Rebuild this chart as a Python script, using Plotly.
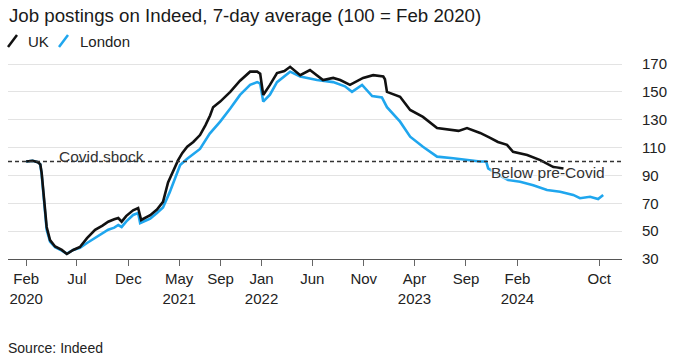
import plotly.graph_objects as go

# ---------------- data ----------------
uk_dates = ["2020-02-01","2020-02-20","2020-03-07","2020-03-14","2020-03-18","2020-03-25","2020-04-02",
    "2020-04-12","2020-04-27","2020-05-17","2020-06-01","2020-06-20","2020-07-10","2020-07-31","2020-08-24",
    "2020-09-15","2020-10-02","2020-10-20","2020-11-01","2020-11-11","2020-11-25","2020-12-15","2020-12-30",
    "2021-01-08","2021-02-04","2021-02-24","2021-03-14","2021-03-29","2021-04-13","2021-04-28","2021-05-10",
    "2021-05-25","2021-06-12","2021-07-02","2021-07-18","2021-08-01","2021-08-10","2021-08-31","2021-09-30",
    "2021-10-29","2021-11-28","2021-12-19","2021-12-28","2022-01-06","2022-01-26","2022-02-16","2022-03-10",
    "2022-03-27","2022-04-26","2022-05-25","2022-07-03","2022-08-02","2022-08-23","2022-09-21","2022-10-30",
    "2022-11-29","2022-12-29","2023-01-03","2023-01-09","2023-02-17","2023-03-19","2023-04-26","2023-06-07",
    "2023-07-16","2023-08-10","2023-09-04","2023-10-13","2023-11-12","2023-12-05","2024-01-01","2024-01-19",
    "2024-03-01","2024-04-09","2024-05-18","2024-06-17"]
uk_values = [100,100.5,99.5,98,92,74,53,
    43.6,39,36.5,33.6,36.5,38.6,45,51,
    54,56.8,58.5,59.4,56.8,61,65,66.6,
    58,61.5,65.5,71,85,93,101,106,
    110.6,114,119,126,133,139,143,150,
    158,164.5,164.5,163,147.8,155,163.5,165,
    168,162,165.7,158.5,160,158.5,155,160,
    162,161,159,150,146.5,137,132,124,
    122.6,122,124,120.5,117,114,112,107,
    104.7,101,96,95]

london_dates = ["2020-02-01","2020-02-20","2020-03-07","2020-03-14","2020-03-18","2020-03-25","2020-04-02",
    "2020-04-12","2020-04-27","2020-05-17","2020-06-01","2020-06-20","2020-07-10","2020-07-31","2020-08-24",
    "2020-09-15","2020-10-02","2020-10-20","2020-11-01","2020-11-11","2020-11-25","2020-12-15","2020-12-30",
    "2021-01-05","2021-02-04","2021-02-24","2021-03-14","2021-04-03","2021-04-18","2021-05-04","2021-05-25",
    "2021-06-23","2021-07-02","2021-07-31","2021-08-31","2021-09-30","2021-10-29","2021-11-28","2021-12-19",
    "2021-12-28","2022-01-06","2022-01-26","2022-02-16","2022-03-27","2022-04-26","2022-06-15","2022-08-02",
    "2022-09-06","2022-09-27","2022-10-27","2022-11-26","2022-12-25","2023-01-09","2023-02-17","2023-03-19",
    "2023-04-26","2023-06-07","2023-07-25","2023-09-04","2023-10-13","2023-10-31","2023-11-06","2023-12-03",
    "2024-01-04","2024-02-09","2024-03-19","2024-04-29","2024-06-07","2024-07-16","2024-08-05","2024-09-04",
    "2024-09-28","2024-10-13"]
london_values = [100,100.5,99.5,98,91,72,51,
    42.5,38.5,36,33.8,36.5,38,41.5,45,
    48,51,52.5,54.4,53,57,61.6,63,
    55.8,59,63,67,78,88,97.5,102,
    107,109,120,128.6,138,147.8,155,157,
    156,143,148,157,164.5,161,158.5,157,
    154,150,155,147,146,139,128.6,117.8,
    110.6,103.5,102.3,101,100,100,95,91,
    86.7,85.5,83,79.5,78.3,76,73.6,74.7,
    73,76]

tick_dates = ["2020-02-01","2020-07-01","2020-12-01","2021-05-01","2021-09-01","2022-01-01",
              "2022-06-01","2022-11-01","2023-04-01","2023-09-01","2024-02-01","2024-10-01"]
tick_labels = ["Feb<br>2020","Jul","Dec","May<br>2021","Sep","Jan<br>2022",
               "Jun","Nov","Apr<br>2023","Sep","Feb<br>2024","Oct"]
y_ticks = [30, 50, 70, 90, 110, 130, 150, 170]

# ---------------- layout geometry ----------------
W, H = 679, 356
PL, PR, PT, PB = 8, 622, 62, 259   # plot area in pixels


def px_x(px):
    return (px - PL) / (PR - PL)


def px_y(py):
    return (PB - py) / (PB - PT)


FONT = "Liberation Sans, Arial, sans-serif"
TXT = "#222222"
BLUE = "#1fa6ee"
HALO = "0px 0px 2px white, 0px 0px 2px white, 0px 0px 3px white, 0px 0px 3px white"

fig = go.Figure()
fig.add_trace(go.Scatter(x=london_dates, y=london_values, mode="lines", name="London",
                         line=dict(color=BLUE, width=2.6), hoverinfo="skip"))
fig.add_trace(go.Scatter(x=uk_dates, y=uk_values, mode="lines", name="UK",
                         line=dict(color="#111111", width=2.6), hoverinfo="skip"))

shapes = [
    dict(type="line", xref="paper", yref="y", x0=0, x1=1, y0=100, y1=100,
         line=dict(color="#333333", width=1.5, dash="4px,3px"), layer="above"),
    # legend slashes
    dict(type="line", xref="paper", yref="paper", x0=px_x(8), x1=px_x(17), y0=px_y(47), y1=px_y(35),
         line=dict(color="#111111", width=2.5)),
    dict(type="line", xref="paper", yref="paper", x0=px_x(59), x1=px_x(68), y0=px_y(47), y1=px_y(35),
         line=dict(color=BLUE, width=2.5)),
]

annotations = [
    dict(text="Job postings on Indeed, 7-day average (100 = Feb 2020)", xref="paper", yref="paper",
         x=px_x(7), y=px_y(15), xanchor="left", yanchor="middle", showarrow=False,
         font=dict(family=FONT, size=18.7, color="#1a1a1a")),
    dict(text="UK", xref="paper", yref="paper", x=px_x(26), y=px_y(42), xanchor="left", yanchor="middle",
         showarrow=False, font=dict(family=FONT, size=15, color=TXT)),
    dict(text="London", xref="paper", yref="paper", x=px_x(78), y=px_y(42), xanchor="left", yanchor="middle",
         showarrow=False, font=dict(family=FONT, size=15, color=TXT)),
    dict(text="Covid shock", xref="paper", yref="paper", x=px_x(57), y=px_y(156), xanchor="left",
         yanchor="middle", showarrow=False, font=dict(family=FONT, size=15.5, color="#333333")),
    dict(text="Below pre-Covid", xref="paper", yref="paper", x=px_x(489), y=px_y(172), xanchor="left",
         yanchor="middle", showarrow=False,
         font=dict(family=FONT, size=15.5, color="#333333", shadow=HALO)),
    dict(text="Source: Indeed", xref="paper", yref="paper", x=px_x(6), y=px_y(348), xanchor="left",
         yanchor="middle", showarrow=False, font=dict(family=FONT, size=14, color=TXT)),
]

fig.update_layout(
    width=W, height=H,
    margin=dict(l=PL, r=W - PR, t=PT, b=H - PB, pad=0, autoexpand=False),
    paper_bgcolor="white", plot_bgcolor="white",
    showlegend=False,
    shapes=shapes, annotations=annotations,
    font=dict(family=FONT, color=TXT),
    xaxis=dict(type="date", range=["2019-12-09", "2024-12-08"],
               tickvals=tick_dates, ticktext=tick_labels,
               showgrid=False, zeroline=False,
               showline=True, linecolor="#555555", linewidth=1.2,
               ticks="outside", ticklen=6, tickcolor="#666666", tickwidth=1,
               tickfont=dict(family=FONT, size=15, color=TXT)),
    yaxis=dict(side="right", range=[30, 30 + (PB - PT) * 140 / 195],
               tickvals=y_ticks, showgrid=True, gridcolor="#e3e3e3", gridwidth=1,
               zeroline=False, showline=False,
               ticks="", ticklabelstandoff=19,
               tickfont=dict(family=FONT, size=15, color=TXT)),
)

fig.write_html("out.html",
               config={"displayModeBar": False},
               post_script="document.body.style.margin='0px';document.body.style.overflow='hidden';")
